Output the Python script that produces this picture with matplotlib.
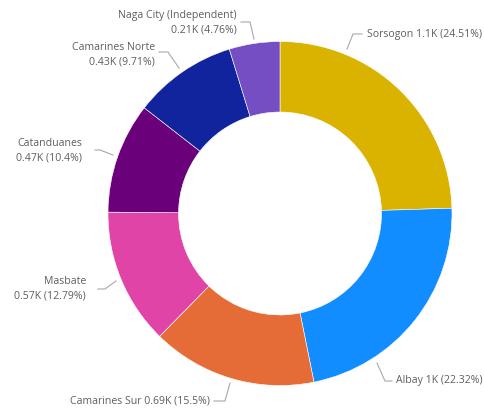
import matplotlib
matplotlib.use("Agg")
import matplotlib.pyplot as plt

names = ["Sorsogon", "Albay", "Camarines Sur", "Masbate", "Catanduanes",
         "Camarines Norte", "Naga City (Independent)"]
values_k = ["1.1K", "1K", "0.69K", "0.57K", "0.47K", "0.43K", "0.21K"]
pcts = [24.51, 22.32, 15.5, 12.79, 10.4, 9.71, 4.76]
colors = ["#D9B300", "#118DFF", "#E66C37", "#E044A7", "#6B007B", "#12239E", "#744EC2"]

H = 411
fig = plt.figure(figsize=(4.85, 4.11), dpi=100)
ax = fig.add_axes([0, 0, 1, 1])

R = 172
ax.pie(pcts, colors=colors, startangle=90, counterclock=False,
       radius=R, center=(280, H - 213.5),
       wedgeprops=dict(width=R * 0.41, edgecolor="white", linewidth=0.4))

# label layout in screen pixels (from top): leader polyline, text anchor, align, one/two lines
layout = [
    ([(347, 49), (353, 34), (362, 34)], (367, 34), "left", True),
    ([(377, 363), (385, 381), (392, 381)], (396, 381), "left", True),
    ([(230, 383), (225, 401), (214, 401)], (210, 401), "right", True),
    ([(116, 281), (105, 289), (98, 289)], (86, 289), "right", False),
    ([(113, 155), (100, 150), (95, 150)], (82, 151), "right", False),
    ([(179, 68), (168, 52), (159, 52)], (155, 55), "right", False),
    ([(254, 39), (250, 22), (241, 22)], (237, 23), "right", False),
]

txt_color = "#605E5C"
line_color = "#A8A8A8"
for name, v, p, (pts, (tx, ty), ha, single) in zip(names, values_k, pcts, layout):
    xs = [x for x, y in pts]
    ys = [H - y for x, y in pts]
    ax.plot(xs, ys, color=line_color, linewidth=0.8)
    ptxt = f"{p:g}%"
    if single:
        label = f"{name} {v} ({ptxt})"
    else:
        label = f"{name}\n{v} ({ptxt})"
    ax.text(tx, H - ty, label, ha=ha, va="center", color=txt_color,
            fontsize=7.6, family="Open Sans", linespacing=1.4)

ax.set_xlim(0, 485)
ax.set_ylim(0, H)
ax.set_aspect("equal")
ax.set_axis_off()

fig.savefig("out.png", dpi=100, facecolor="white")
